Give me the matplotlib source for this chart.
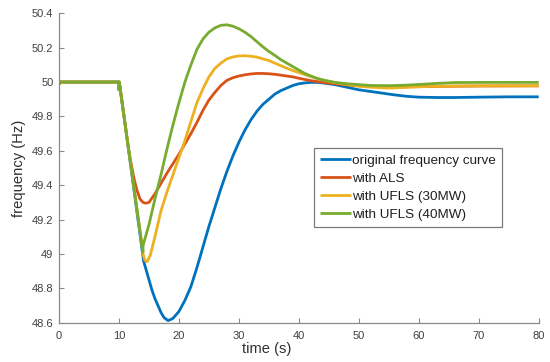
import matplotlib
matplotlib.use("Agg")
import matplotlib.pyplot as plt

plt.rcParams['font.family'] = ['Liberation Sans', 'DejaVu Sans']

# ---- data ----
t_shared = [0, 0.1, 9.95, 10.0, 10.05, 11, 12, 13, 13.9]
f_shared = [49.985, 50.0, 50.0, 49.955, 50.0, 49.76, 49.51, 49.26, 49.035]

t_orig = [14.1, 15, 15.5, 16, 16.5, 17, 17.5, 18.2, 19, 20, 21, 22, 23, 24, 25, 26, 27,
          28, 29, 30, 31, 32, 33, 34, 35, 36, 37, 38, 39, 40, 41, 42, 43, 44, 45, 46,
          48, 50, 52, 54, 56, 58, 60, 63, 66, 70, 75, 80]
f_orig = [48.96, 48.85, 48.79, 48.74, 48.70, 48.66, 48.63, 48.612, 48.625, 48.665,
          48.73, 48.81, 48.92, 49.04, 49.16, 49.27, 49.38, 49.48, 49.57, 49.65, 49.72,
          49.78, 49.83, 49.87, 49.90, 49.93, 49.95, 49.965, 49.98, 49.99, 49.995,
          49.998, 49.998, 49.995, 49.99, 49.985, 49.97, 49.955, 49.945, 49.935,
          49.925, 49.917, 49.912, 49.91, 49.91, 49.912, 49.914, 49.914]

t_als = [11.6, 12, 12.5, 13, 13.5, 14, 14.5, 15, 16, 17, 18, 19, 20, 21, 22, 23, 24,
         25, 26, 27, 28, 29, 30, 31, 32, 33, 34, 35, 36, 37, 38, 39, 40, 41, 42, 44,
         46, 48, 50, 53, 56, 60, 70, 80]
f_als = [49.61, 49.53, 49.44, 49.37, 49.32, 49.30, 49.295, 49.30, 49.35, 49.41, 49.47,
         49.525, 49.58, 49.64, 49.70, 49.765, 49.835, 49.895, 49.94, 49.98, 50.01,
         50.025, 50.035, 50.042, 50.047, 50.05, 50.05, 50.048, 50.045, 50.04, 50.035,
         50.03, 50.022, 50.015, 50.008, 49.998, 49.99, 49.983, 49.978, 49.973, 49.972,
         49.974, 49.977, 49.978]

t_ufls30 = [14.0, 14.3, 14.7, 15.2, 16, 17, 18, 19, 20, 21, 22, 23, 24, 25, 26, 27, 28,
            29, 30, 31, 32, 33, 34, 35, 36, 37, 38, 39, 40, 41, 42, 43, 44, 45, 46, 48,
            50, 52, 55, 58, 62, 70, 80]
f_ufls30 = [49.0, 48.965, 48.955, 48.99, 49.10, 49.25, 49.36, 49.46, 49.56, 49.66,
            49.77, 49.88, 49.96, 50.03, 50.08, 50.11, 50.135, 50.146, 50.152, 50.153,
            50.15, 50.145, 50.135, 50.125, 50.11, 50.095, 50.08, 50.067, 50.055, 50.043,
            50.032, 50.021, 50.012, 50.004, 49.997, 49.986, 49.976, 49.97, 49.965,
            49.969, 49.975, 49.978, 49.978]

t_ufls40 = [14.0, 14.02, 15, 16, 17, 18, 19, 20, 21, 22, 23, 24, 25, 26, 27, 28, 29, 30,
            31, 32, 33, 34, 35, 36, 37, 38, 39, 40, 41, 42, 43, 44, 45, 46, 48, 50, 52,
            55, 58, 60, 63, 66, 70, 80]
f_ufls40 = [49.01, 49.05, 49.17, 49.32, 49.46, 49.61, 49.75, 49.88, 50.0, 50.10, 50.19,
            50.25, 50.29, 50.315, 50.33, 50.333, 50.325, 50.31, 50.29, 50.265, 50.235,
            50.205, 50.178, 50.155, 50.13, 50.11, 50.09, 50.07, 50.05, 50.035, 50.022,
            50.012, 50.005, 49.998, 49.99, 49.985, 49.98, 49.979, 49.982, 49.986,
            49.992, 49.997, 49.998, 49.998]

labels = ["original frequency curve", "with ALS", "with UFLS (30MW)", "with UFLS (40MW)"]
colors = ["#0072BD", "#D95319", "#EDB120", "#77AC30"]

xticks = [0, 10, 20, 30, 40, 50, 60, 70, 80]
yticks = [48.6, 48.8, 49.0, 49.2, 49.4, 49.6, 49.8, 50.0, 50.2, 50.4]
ytick_labels = ["48.6", "48.8", "49", "49.2", "49.4", "49.6", "49.8", "50", "50.2", "50.4"]

# ---- figure ----
fig = plt.figure(figsize=(5.5, 3.62), dpi=100)
ax = fig.add_axes([0.1073, 0.1086, 0.8721, 0.8547])

series = [
    (t_orig, f_orig, 11.5),
    (t_als, f_als, 11.5),
    (t_ufls30, f_ufls30, 14.0),
    (t_ufls40, f_ufls40, 14.0),
]
for (ts, fs, tcut), lab, col in zip(series, labels, colors):
    tt = [t for t in t_shared if t <= tcut] + list(ts)
    ff = [f for t, f in zip(t_shared, f_shared) if t <= tcut] + list(fs)
    ax.plot(tt, ff, color=col, lw=2.0, label=lab, solid_capstyle='butt')

ax.set_xlim(0, 80)
ax.set_ylim(48.6, 50.4)
ax.set_xticks(xticks)
ax.set_yticks(yticks)
ax.set_yticklabels(ytick_labels)

spine_col = "#8a8a8a"
text_col = "#404040"
for s in ["top", "right"]:
    ax.spines[s].set_visible(False)
for s in ["left", "bottom"]:
    ax.spines[s].set_color(spine_col)
    ax.spines[s].set_linewidth(0.9)
ax.tick_params(direction="in", length=3.5, width=0.8, color=spine_col,
               labelsize=8.0, labelcolor=text_col)
ax.tick_params(axis="y", pad=4)
ax.tick_params(axis="x", pad=6)

ax.set_xlabel("time (s)", fontsize=10.6, color="#303030")
ax.set_ylabel("frequency (Hz)", fontsize=10.6, color="#303030")
ax.xaxis.set_label_coords(0.433, -0.064)
ax.yaxis.set_label_coords(-0.068, 0.5)

leg = ax.legend(loc="upper left", bbox_to_anchor=(0.531, 0.564), fontsize=9.7,
                handlelength=2.3, handletextpad=0.1, labelspacing=0.42,
                borderpad=0.45, borderaxespad=0, fancybox=False, framealpha=1)
leg.get_frame().set_edgecolor("#7a7a7a")
leg.get_frame().set_linewidth(0.9)
for txt in leg.get_texts():
    txt.set_color("#202020")

fig.savefig("out.png", dpi=100)
